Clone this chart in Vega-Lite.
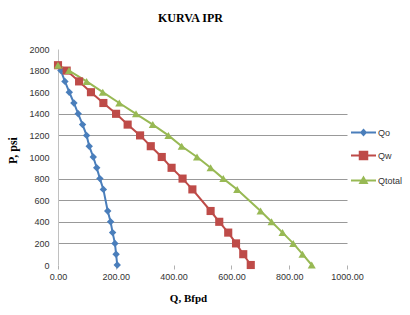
{
  "$schema": "https://vega.github.io/schema/vega-lite/v6.json",
  "width": 289,
  "height": 216,
  "autosize": {"type": "none"},
  "padding": {"left": 58, "top": 49, "right": 63, "bottom": 50},
  "background": "white",
  "title": {"text": "KURVA IPR", "font": "Liberation Serif", "fontSize": 12, "fontWeight": "bold", "color": "#000000", "anchor": "middle", "dx": -12, "offset": 20},
  "config": {"view": {"stroke": null}},
  "data": {"values": [
    {"series": "Qo", "P": 1850, "Q": 0},
    {"series": "Qo", "P": 1800, "Q": 10},
    {"series": "Qo", "P": 1700, "Q": 24},
    {"series": "Qo", "P": 1600, "Q": 39},
    {"series": "Qo", "P": 1500, "Q": 55},
    {"series": "Qo", "P": 1400, "Q": 70},
    {"series": "Qo", "P": 1300, "Q": 85},
    {"series": "Qo", "P": 1200, "Q": 99},
    {"series": "Qo", "P": 1100, "Q": 108},
    {"series": "Qo", "P": 1000, "Q": 122},
    {"series": "Qo", "P": 900, "Q": 134},
    {"series": "Qo", "P": 800, "Q": 145},
    {"series": "Qo", "P": 700, "Q": 157},
    {"series": "Qo", "P": 500, "Q": 172},
    {"series": "Qo", "P": 400, "Q": 182},
    {"series": "Qo", "P": 300, "Q": 189},
    {"series": "Qo", "P": 200, "Q": 197},
    {"series": "Qo", "P": 100, "Q": 201},
    {"series": "Qo", "P": 0, "Q": 205},
    {"series": "Qw", "P": 1850, "Q": 0},
    {"series": "Qw", "P": 1800, "Q": 30},
    {"series": "Qw", "P": 1700, "Q": 73},
    {"series": "Qw", "P": 1600, "Q": 114},
    {"series": "Qw", "P": 1500, "Q": 157},
    {"series": "Qw", "P": 1400, "Q": 201},
    {"series": "Qw", "P": 1300, "Q": 241},
    {"series": "Qw", "P": 1200, "Q": 284},
    {"series": "Qw", "P": 1100, "Q": 321},
    {"series": "Qw", "P": 1000, "Q": 359},
    {"series": "Qw", "P": 900, "Q": 393},
    {"series": "Qw", "P": 800, "Q": 431},
    {"series": "Qw", "P": 700, "Q": 465},
    {"series": "Qw", "P": 500, "Q": 528},
    {"series": "Qw", "P": 400, "Q": 558},
    {"series": "Qw", "P": 300, "Q": 589},
    {"series": "Qw", "P": 200, "Q": 616},
    {"series": "Qw", "P": 100, "Q": 641},
    {"series": "Qw", "P": 0, "Q": 667},
    {"series": "Qtotal", "P": 1850, "Q": 0},
    {"series": "Qtotal", "P": 1800, "Q": 38},
    {"series": "Qtotal", "P": 1700, "Q": 99},
    {"series": "Qtotal", "P": 1600, "Q": 155},
    {"series": "Qtotal", "P": 1500, "Q": 212},
    {"series": "Qtotal", "P": 1400, "Q": 270},
    {"series": "Qtotal", "P": 1300, "Q": 328},
    {"series": "Qtotal", "P": 1200, "Q": 382},
    {"series": "Qtotal", "P": 1100, "Q": 428},
    {"series": "Qtotal", "P": 1000, "Q": 481},
    {"series": "Qtotal", "P": 900, "Q": 528},
    {"series": "Qtotal", "P": 800, "Q": 572},
    {"series": "Qtotal", "P": 700, "Q": 620},
    {"series": "Qtotal", "P": 500, "Q": 701},
    {"series": "Qtotal", "P": 400, "Q": 739},
    {"series": "Qtotal", "P": 300, "Q": 777},
    {"series": "Qtotal", "P": 200, "Q": 814},
    {"series": "Qtotal", "P": 100, "Q": 846},
    {"series": "Qtotal", "P": 0, "Q": 878}
  ]},
  "encoding": {
    "x": {"field": "Q", "type": "quantitative",
      "scale": {"domain": [0, 1000], "nice": false},
      "axis": {"values": [0, 200, 400, 600, 800, 1000], "format": ".2f", "grid": false, "domain": false,
        "labelFlush": false, "labelOverlap": false,
        "ticks": true, "tickSize": 4, "tickColor": "#b0b0b0", "labelPadding": 3,
        "labelFont": "Liberation Sans", "labelFontSize": 9, "labelColor": "#333333",
        "title": "Q, Bfpd", "titleFont": "Liberation Serif", "titleFontSize": 11, "titleFontWeight": "bold", "titleColor": "#000000",
        "titleX": 130, "titleY": 33, "titleBaseline": "middle", "titleAlign": "center"}},
    "y": {"field": "P", "type": "quantitative",
      "scale": {"domain": [0, 2000], "nice": false},
      "axis": {"values": [0, 200, 400, 600, 800, 1000, 1200, 1400, 1600, 1800, 2000], "format": "d", "grid": true,
        "labelFlush": false, "labelOverlap": false,
        "gridColor": "#999999", "gridWidth": 1,
        "gridOpacity": {"condition": {"test": "indexof([200,400,600,800,1200,1400], datum.value) >= 0", "value": 1}, "value": 0},
        "domain": true, "domainColor": "#c0c0c0", "ticks": false, "labelPadding": 9,
        "labelFont": "Liberation Sans", "labelFontSize": 9, "labelColor": "#333333",
        "title": "P, psi", "titleFont": "Liberation Serif", "titleFontSize": 12, "titleFontWeight": "bold", "titleColor": "#000000",
        "titleX": -46, "titleY": 101, "titleAngle": -90, "titleBaseline": "middle", "titleAlign": "center"}},
    "order": {"field": "P", "sort": "descending"}
  },
  "layer": [
    {"mark": {"type": "line", "strokeWidth": 2},
     "encoding": {
       "color": {"field": "series", "type": "nominal",
         "scale": {"domain": ["Qo", "Qw", "Qtotal"], "range": ["#4A7EBB", "#BE4B48", "#98B954"]},
         "legend": {"title": null, "orient": "none", "legendX": 292, "legendY": 70,
           "symbolSize": 625, "symbolStrokeWidth": 2, "rowPadding": 3, "labelOffset": 1,
           "labelFont": "Liberation Sans", "labelFontSize": 9, "labelColor": "#333333",
           "encode": {"symbols": {"update": {
             "shape": {"signal": "datum.value === 'Qo' ? 'M-1,0H1M0,-0.2L0.18,0L0,0.2L-0.18,0Z' : (datum.value === 'Qw' ? 'M-1,0H1M-0.3,-0.3H0.3V0.3H-0.3Z' : 'M-1,0H1M0,-0.24L0.26,0.2H-0.26Z')"},
             "fill": {"signal": "datum.value === 'Qo' ? '#4A7EBB' : (datum.value === 'Qw' ? '#BE4B48' : '#98B954')"},
             "stroke": {"signal": "datum.value === 'Qo' ? '#4A7EBB' : (datum.value === 'Qw' ? '#BE4B48' : '#98B954')"},
             "strokeWidth": {"value": 2}
           }}}}}
     }},
    {"transform": [{"filter": "datum.series === 'Qo'"}],
     "mark": {"type": "point", "filled": true, "opacity": 1, "shape": "diamond", "size": 55},
     "encoding": {"color": {"field": "series", "type": "nominal", "legend": null}}},
    {"transform": [{"filter": "datum.series === 'Qw'"}],
     "mark": {"type": "point", "filled": true, "opacity": 1, "shape": "square", "size": 66},
     "encoding": {"color": {"field": "series", "type": "nominal", "legend": null}}},
    {"transform": [{"filter": "datum.series === 'Qtotal'"}],
     "mark": {"type": "point", "filled": true, "opacity": 1, "shape": "triangle-up", "size": 65},
     "encoding": {"color": {"field": "series", "type": "nominal", "legend": null}}}
  ]
}
